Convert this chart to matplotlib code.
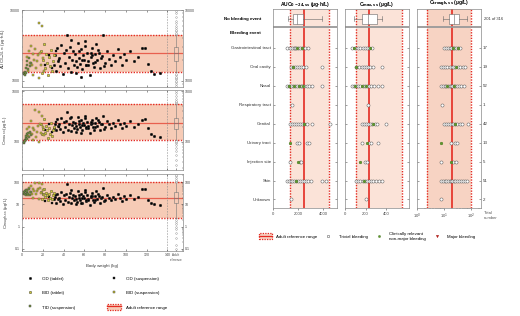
import matplotlib
matplotlib.use('Agg')
import matplotlib.pyplot as plt
from matplotlib.patches import Patch
from matplotlib.lines import Line2D
from matplotlib.ticker import NullFormatter

plt.rcParams['font.family'] = ['Liberation Sans', 'DejaVu Sans']
plt.rcParams['font.size'] = 3.2
plt.rcParams['axes.linewidth'] = 0.5
plt.rcParams['axes.edgecolor'] = '#777777'
plt.rcParams['xtick.major.width'] = 0.4
plt.rcParams['ytick.major.width'] = 0.4
plt.rcParams['xtick.minor.width'] = 0.3
plt.rcParams['ytick.minor.width'] = 0.3
plt.rcParams['xtick.major.size'] = 1.5
plt.rcParams['ytick.major.size'] = 1.5
plt.rcParams['xtick.minor.size'] = 0.8
plt.rcParams['ytick.minor.size'] = 0.8
plt.rcParams['xtick.major.pad'] = 1.5
plt.rcParams['ytick.major.pad'] = 1.5

# ---------------- data: body weight scatter (left) ----------------
tid_susp_w = [1.5, 2.0, 2.5, 3.0, 3.5, 4.0, 4.5, 5.0, 6.0, 7.0, 8.0, 9.0]
tid_susp_auc = [1250, 1300, 1200, 1350, 1280, 1500, 1700, 1900, 1450, 2100, 1600, 1800]
tid_susp_cmax = [95, 100, 110, 105, 120, 130, 140, 115, 150, 125, 160, 135]
tid_susp_ctr = [30, 35, 28, 40, 25, 45, 32, 38, 30, 50, 26, 36]

bid_susp_w = [5, 6, 7, 8, 9, 10, 10.5, 11, 12, 12.5, 13, 14, 15, 16, 16.5, 17, 18, 19, 20, 21]
bid_susp_auc = [2200, 1400, 2600, 1800, 3100, 1650, 2400, 1200, 2000, 2800, 1500, 1900, 2300, 6600, 1100,
                2500, 1700, 5900, 2100, 1400]
bid_susp_cmax = [180, 130, 200, 150, 260, 140, 190, 110, 170, 420, 125, 160, 210, 380, 100, 230, 150, 320, 200, 135]
bid_susp_ctr = [45, 25, 55, 35, 70, 30, 48, 20, 40, 95, 28, 38, 50, 90, 18, 52, 32, 85, 42, 26]

bid_tab_w = [18, 19, 20, 21, 22, 23, 24, 25, 26, 27, 28, 29, 30, 31]
bid_tab_auc = [2600, 1300, 2000, 3300, 1500, 2400, 1800, 1200, 2200, 1600, 2700, 1400, 1900, 2300]
bid_tab_cmax = [220, 140, 180, 280, 150, 210, 170, 120, 190, 145, 240, 130, 175, 200]
bid_tab_ctr = [35, 18, 28, 50, 22, 33, 25, 16, 30, 20, 40, 18, 26, 32]

od_susp_w = [22, 26, 29, 33, 36]
od_susp_auc = [1700, 2300, 1500, 2600, 2000]
od_susp_cmax = [170, 230, 160, 250, 200]
od_susp_ctr = [14, 22, 12, 25, 18]

od_tab_w = [31, 32, 33, 34, 35, 36, 37, 38, 39, 40,
            41, 42, 43, 44, 45, 46, 47, 48, 49, 50,
            51, 52, 53, 54, 55, 56, 57, 58, 59, 60,
            61, 62, 63, 64, 65, 66, 67, 68, 69, 70,
            52, 55, 58, 61, 64, 67, 70, 73, 76, 79,
            71, 72, 74, 75, 77, 78, 80, 82, 84, 86,
            88, 90, 92, 94, 96, 98, 100, 104, 108, 112,
            116, 118, 121, 124, 127, 133, 47, 57, 62, 66]
od_tab_auc = [1700, 2300, 1400, 2900, 1900, 2100, 1600, 3200, 1250, 2500,
              1800, 2700, 4450, 1500, 2200, 3000, 1350, 2000, 2600, 1700,
              2400, 1900, 1550, 3400, 2100, 1750, 2800, 1450, 2300, 2000,
              3600, 1650, 2500, 1900, 1200, 2200, 2900, 1800, 1550, 2400,
              1300, 2600, 2000, 3100, 1700, 2300, 1850, 2700, 2100, 1600,
              3300, 1950, 2450, 1500, 2250, 4450, 1800, 2600, 2050, 1700,
              2300, 1900, 2800, 2150, 1650, 2400, 2000, 2600, 1900, 2200,
              2900, 2950, 1750, 1400, 1250, 1300, 3800, 1150, 1700, 2450]
od_tab_cmax = [190, 230, 170, 280, 210, 220, 180, 300, 160, 250,
               200, 260, 380, 175, 230, 290, 165, 215, 250, 190,
               240, 205, 180, 310, 225, 195, 270, 170, 235, 215,
               320, 185, 250, 205, 150, 230, 275, 200, 175, 240,
               160, 255, 215, 290, 190, 235, 200, 265, 225, 180,
               300, 210, 245, 175, 230, 330, 195, 255, 220, 190,
               235, 205, 270, 225, 185, 240, 210, 255, 200, 225,
               275, 280, 190, 140, 130, 125, 310, 150, 195, 245]
od_tab_ctr = [17, 22, 12, 30, 18, 20, 14, 35, 10, 25,
              16, 28, 85, 13, 21, 33, 11, 19, 26, 15,
              24, 18, 13, 38, 20, 15, 29, 12, 23, 19,
              45, 14, 25, 17, 9, 21, 31, 16, 13, 24,
              10, 27, 19, 36, 15, 23, 16, 28, 20, 14,
              40, 18, 24, 12, 21, 55, 16, 26, 19, 15,
              22, 17, 30, 20, 14, 24, 18, 26, 17, 21,
              50, 48, 15, 12, 10, 9, 42, 11, 15, 23]

# adult reference ranges (lower, median, upper)
auc_ref = [1330, 2450, 4450]
cmax_ref = [108, 235, 550]
ctr_ref = [2.4, 19, 97]

# adult reference distributions (box at right of the left panels)
auc_adult_box = dict(whislo=1330, q1=1900, med=2450, q3=3000, whishi=4450,
                     fliers=[850, 900, 950, 1000, 1050, 1100, 1150, 1200, 1250, 4600, 4800, 5000, 5300,
                             5600, 6000, 6500, 7000, 8000, 9000, 9800])
cmax_adult_box = dict(whislo=108, q1=180, med=235, q3=300, whishi=550,
                      fliers=[35, 45, 55, 65, 75, 85, 95, 100, 104, 570, 600, 650, 700, 800, 900, 1000])
ctr_adult_box = dict(whislo=2.4, q1=11, med=19, q3=35, whishi=97,
                     fliers=[0.1, 0.15, 0.3, 0.5, 0.8, 1.0, 1.3, 1.6, 2.0, 105, 115, 130, 150, 180, 210])

# ---------------- data: bleeding events (right) ----------------
categories = ['Gastrointestinal tract', 'Oral cavity', 'Nasal', 'Respiratory tract', 'Genital',
              'Urinary tract', 'Injection site', 'Skin', 'Unknown']
totals = ['17', '19', '52', '1', '42', '13', '5', '51', '2']

auc_trivial = [
    [1100, 1350, 1500, 1650, 1750, 1850, 2000, 2150, 2300, 2550, 2750],
    [1450, 1600, 1750, 1900, 2050, 2200, 2400, 2650, 3900],
    [1100, 1300, 1450, 1600, 1750, 1900, 2050, 2200, 2350, 2500, 2700, 2900, 3100, 3900],
    [1500],
    [1350, 1550, 1700, 1850, 2000, 2150, 2300, 2500, 2700, 3100, 4550],
    [1900, 2100, 2700, 2900],
    [1350, 2150, 2250],
    [1100, 1250, 1400, 1550, 1700, 1850, 2000, 2150, 2300, 2450, 2600, 2800, 3000, 3900, 4200],
    [1400],
]
auc_crnm = [[1900, 2350], [1600], [1250, 1700, 2100, 2400], [], [2450], [1360], [2000], [1800], []]

cmax_trivial = [
    [70, 100, 130, 150, 170, 190, 210, 230, 260],
    [110, 140, 160, 180, 200, 220, 240, 270, 360],
    [70, 90, 110, 130, 150, 170, 190, 210, 230, 250, 280, 320, 360],
    [220],
    [160, 180, 200, 220, 240, 260, 290, 310, 400],
    [160, 230, 250, 320],
    [190, 210],
    [110, 130, 150, 170, 190, 210, 230, 250, 270, 300, 330, 360],
    [200],
]
cmax_crnm = [[90, 240], [110], [100, 160, 200], [], [270], [210], [150], [180], []]

ctr_trivial = [
    [10, 12, 14, 16, 18, 21, 24, 28, 33, 39],
    [7.7, 9, 11, 13, 16, 19, 22, 26, 32, 40, 50, 60],
    [7.7, 9, 10.5, 12, 14, 16, 18, 20, 23, 26, 30, 35, 42, 55],
    [8.4],
    [10, 12, 14, 16.5, 19, 22, 26, 31, 38, 46, 78],
    [18, 26, 30],
    [7.7, 21, 28],
    [7.7, 9, 10.5, 12, 14, 16, 18, 20, 23, 26, 30, 35, 42, 50, 60, 71],
    [8],
]
ctr_crnm = [[21, 33], [28], [13, 23], [], [26], [7.7], [18], [], []]

# no bleeding event boxes (201 of 316)
auc_nobleed = dict(whislo=1200, q1=1600, med=1950, q3=2400, whishi=3900, fliers=[])
cmax_nobleed = dict(whislo=90, q1=160, med=220, q3=310, whishi=360, fliers=[])
ctr_nobleed = dict(whislo=9, q1=15, med=23, q3=36, whishi=71, fliers=[])

# ---------------- figure ----------------
W, H = 520, 316
fig = plt.figure(figsize=(5.2, 3.16), dpi=100)


def box(x0, y0, x1, y1):
    return [x0 / W, 1 - y1 / H, (x1 - x0) / W, (y1 - y0) / H]


RED = '#e42b22'
BAND_L = '#f6cbb6'
EDGE = '#333333'
BID_C = '#d3cc3a'
TID_C = '#7f9f45'

groups = [
    (od_tab_w, [od_tab_auc, od_tab_cmax, od_tab_ctr], 'o', 'black'),
    (od_susp_w, [od_susp_auc, od_susp_cmax, od_susp_ctr], 's', 'black'),
    (bid_tab_w, [bid_tab_auc, bid_tab_cmax, bid_tab_ctr], 'o', BID_C),
    (bid_susp_w, [bid_susp_auc, bid_susp_cmax, bid_susp_ctr], 's', BID_C),
    (tid_susp_w, [tid_susp_auc, tid_susp_cmax, tid_susp_ctr], 's', TID_C),
]

left_panels = [
    (box(22, 10, 183, 87), 0, auc_ref, auc_adult_box, (820, 10000), [1000, 10000],
     r'AUC$_{0\mathrm{-}24,ss}$ (µg·h/L)'),
    (box(22, 90, 183, 170), 1, cmax_ref, cmax_adult_box, (28, 1050), [100, 1000],
     r'C$_{max,ss}$ (µg/L)'),
    (box(22, 174, 183, 251), 2, ctr_ref, ctr_adult_box, (0.08, 230), [0.1, 1, 10, 100],
     r'C$_{trough,ss}$ (µg/L)'),
]

for pos, k, ref, abox, ylim, yt, ylab in left_panels:
    ax = fig.add_axes(pos)
    ax.set_yscale('log')
    ax.set_xlim(0, 155)
    ax.set_ylim(*ylim)
    ax.axhspan(ref[0], ref[2], color=BAND_L, lw=0, zorder=0)
    ax.axhline(ref[0], color=RED, ls=(0, (1, 1)), lw=1.0, zorder=1)
    ax.axhline(ref[2], color=RED, ls=(0, (1, 1)), lw=1.0, zorder=1)
    ax.axhline(ref[1], color='#e8604f', lw=0.9, zorder=1)
    ax.axvline(140, color='#888888', ls=(0, (3, 2)), lw=0.4, zorder=1)
    for w, vals, mk, col in groups:
        ax.scatter(w, vals[k], marker=mk, s=3.8, c=col, edgecolors=EDGE, linewidths=0.25, zorder=3)
    ax.bxp([abox], positions=[148], widths=4, vert=True, showfliers=True, patch_artist=True,
           boxprops=dict(facecolor='none', edgecolor='#777777', lw=0.4),
           medianprops=dict(color='#777777', lw=0.4),
           whiskerprops=dict(color='#777777', lw=0.4),
           capprops=dict(color='#777777', lw=0.4),
           flierprops=dict(marker='o', markersize=1.2, markerfacecolor='white',
                           markeredgecolor='#888888', markeredgewidth=0.3),
           manage_ticks=False, zorder=4)
    ax.set_yticks(yt)
    ax.set_yticklabels([('%g' % v) for v in yt])
    ax.yaxis.set_minor_formatter(NullFormatter())
    ax.tick_params(which='both', direction='in', top=True, right=True, labelright=True,
                   labelsize=2.6, colors='#444444')
    ax.set_xticks([0, 20, 40, 60, 80, 100, 120, 140, 148])
    ax.set_ylabel(ylab, fontsize=3.2, labelpad=2, color='#333333')
    if k < 2:
        ax.tick_params(labelbottom=False)
    else:
        ax.set_xticklabels(['0', '20', '40', '60', '80', '100', '120', '140', 'Adult\nreference'])
        ax.set_xlabel('Body weight (kg)', fontsize=3.2, labelpad=2, color='#333333')
        for t in ax.get_xticklabels()[-1:]:
            t.set_fontsize(2.2)
    for s in ax.spines.values():
        s.set_color('#888888')

# left legend
hand_l = [
    Line2D([], [], ls='', marker='o', ms=1.8, mfc='black', mec=EDGE, mew=0.3),
    Line2D([], [], ls='', marker='o', ms=1.8, mfc=BID_C, mec=EDGE, mew=0.3),
    Line2D([], [], ls='', marker='s', ms=1.8, mfc=TID_C, mec=EDGE, mew=0.3),
    Line2D([], [], ls='', marker='s', ms=1.8, mfc='black', mec=EDGE, mew=0.3),
    Line2D([], [], ls='', marker='s', ms=1.8, mfc=BID_C, mec=EDGE, mew=0.3),
    (Patch(facecolor=BAND_L, edgecolor=RED, ls=(0, (1, 1)), lw=0.9), Line2D([], [], color=RED, lw=0.9)),
]
lab_l = ['OD (tablet)', 'BID (tablet)', 'TID (suspension)', 'OD (suspension)', 'BID (suspension)',
         'Adult reference range']
fig.legend(hand_l, lab_l, ncol=2, loc='upper left', bbox_to_anchor=(19 / W, 1 - 272 / H), frameon=False,
           fontsize=3.2, handlelength=3.2, handleheight=1.6, columnspacing=7.3, labelspacing=1.9,
           handletextpad=1.0)

# ---------------- right panels ----------------
ROW_BOX, ROW_SEP, ROW_HEAD = -1.53, -1.1, -0.79
right_cols = [
    (box(273, 9, 337, 208), auc_trivial, auc_crnm, auc_nobleed, auc_ref, (0, 5100), 'linear',
     [0, 2000, 4000], ['0', '2000', '4000'], '#fbe3d8', r'AUC$_{\mathbf{0-24,ss}}$ (µg·h/L)'),
    (box(345, 9, 409, 208), cmax_trivial, cmax_crnm, cmax_nobleed, cmax_ref, (0, 620), 'linear',
     [0, 200, 400], ['0', '200', '400'], '#fbe3d8', r'C$_{\mathbf{max,ss}}$ (µg/L)'),
    (box(417, 9, 481, 208), ctr_trivial, ctr_crnm, ctr_nobleed, ctr_ref, (1, 234), 'log',
     [1, 10, 100], [r'10$^0$', r'10$^1$', r'10$^2$'], '#f7d3c3', r'C$_{\mathbf{trough,ss}}$ (µg/L)'),
]

rows = list(range(len(categories)))
for j, (pos, triv, crnm, nob, ref, xlim, scale, xt, xtl, band, title) in enumerate(right_cols):
    ax = fig.add_axes(pos)
    ax.set_xscale(scale)
    ax.set_xlim(*xlim)
    ax.set_ylim(8.45, -2.05)
    ax.axvspan(ref[0], ref[2], color=band, lw=0, zorder=0)
    ax.axvline(ref[0], color=RED, ls=(0, (1, 1)), lw=1.0, zorder=1)
    ax.axvline(ref[2], color=RED, ls=(0, (1, 1)), lw=1.0, zorder=1)
    ax.axvline(ref[1], color=RED, lw=1.2, zorder=1)
    ax.axhline(ROW_SEP, color='#999999', lw=1.3, zorder=2)
    ax.bxp([nob], positions=[ROW_BOX], widths=0.5, vert=False, patch_artist=True,
           boxprops=dict(facecolor='white', edgecolor='#666666', lw=0.4),
           medianprops=dict(color='#666666', lw=0.4),
           whiskerprops=dict(color='#666666', lw=0.4),
           capprops=dict(color='#666666', lw=0.4),
           manage_ticks=False, zorder=3)
    for i in rows:
        ax.scatter(triv[i], [i] * len(triv[i]), s=5, marker='o', facecolors='white',
                   edgecolors='#555555', linewidths=0.35, zorder=3)
        ax.scatter(crnm[i], [i] * len(crnm[i]), s=4, marker='o', c='#5f9a2c',
                   edgecolors='#3d6a1a', linewidths=0.25, zorder=4)
    ax.set_xticks(xt)
    ax.set_xticklabels(xtl)
    if scale == 'log':
        ax.xaxis.set_minor_formatter(NullFormatter())
    ax.set_yticks(rows)
    ax.tick_params(axis='y', which='both', direction='in', left=True, right=True,
                   labelleft=(j == 0), labelright=(j == 2), length=1.5, colors='#555555')
    ax.tick_params(axis='x', which='both', direction='out', labelsize=3.0, colors='#444444')
    if j == 0:
        ax.set_yticklabels(categories)
        ax.text(-0.19, ROW_BOX, 'No bleeding event', transform=ax.get_yaxis_transform(),
                ha='right', va='center', fontweight='bold', fontsize=3.2)
        ax.text(-0.19, ROW_HEAD, 'Bleeding event', transform=ax.get_yaxis_transform(),
                ha='right', va='center', fontweight='bold', fontsize=3.2)
    if j == 2:
        ax.set_yticklabels(totals)
        ax.text(1.04, ROW_BOX, '201 of 316', transform=ax.get_yaxis_transform(),
                ha='left', va='center', fontsize=3.0, color='#333333')
        ax.text(1.04, -0.015, 'Total\nnumber', transform=ax.transAxes, ha='left', va='top',
                fontsize=3.0, color='#555555')
    ax.tick_params(axis='y', labelsize=3.2, pad=1.5)
    for t in ax.get_yticklabels():
        t.set_color('#333333')
    ax.set_title(title, fontsize=3.6, fontweight='bold', pad=1.5)
    for s in ax.spines.values():
        s.set_color('#888888')

# right legend
hand_r = [
    (Patch(facecolor='#f7d3c3', edgecolor=RED, ls=(0, (1, 1)), lw=0.9), Line2D([], [], color=RED, lw=0.9)),
    Line2D([], [], ls='', marker='o', ms=1.8, mfc='white', mec='#555555', mew=0.35),
    Line2D([], [], ls='', marker='o', ms=1.6, mfc='#5f9a2c', mec='#3d6a1a', mew=0.25),
    Line2D([], [], ls='', marker='v', ms=1.8, mfc='#b0201a', mec='#b0201a', mew=0.25),
]
lab_r = ['Adult reference range', 'Trivial bleeding', 'Clinically relevant\nnon-major bleeding',
         'Major bleeding']
fig.legend(hand_r, lab_r, ncol=4, loc='upper left', bbox_to_anchor=(255 / W, 1 - 228 / H), frameon=False,
           fontsize=3.2, handlelength=3.0, handleheight=1.6, columnspacing=0.9, handletextpad=0.9)

fig.savefig('out.png', dpi=100)
